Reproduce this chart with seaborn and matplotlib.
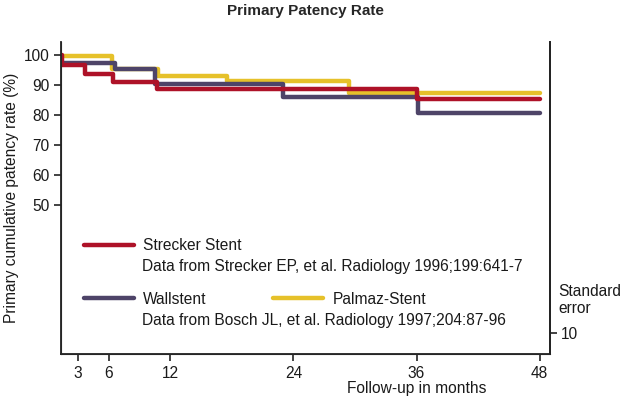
import pandas as pd
import seaborn as sns
import matplotlib.pyplot as plt
from matplotlib.lines import Line2D

# Kaplan-Meier style step values (months, %)
strecker_months = [0, 1.5, 3.7, 6.4, 10.7, 36.0, 48]
strecker_rate = [100, 96.9, 93.6, 91.2, 88.8, 85.3, 85.3]

wall_months = [0, 0.5, 6.6, 10.5, 23.0, 36.1, 48]
wall_rate = [100, 97.3, 95.3, 90.4, 86.2, 80.7, 80.7]

palmaz_months = [0, 0.5, 6.3, 10.8, 17.5, 29.4, 48]
palmaz_rate = [100, 99.6, 95.3, 93.1, 91.5, 87.3, 87.3]

x_ticks = [3, 6, 12, 24, 36, 48]
y_ticks = [50, 60, 70, 80, 90, 100]
se_ticks = [10]

names = ["Palmaz-Stent", "Wallstent", "Strecker Stent"]
colors = {"Strecker Stent": "#AE1228", "Wallstent": "#4E4468", "Palmaz-Stent": "#E6C12A"}

df = pd.concat([
    pd.DataFrame({"month": palmaz_months, "rate": palmaz_rate, "stent": "Palmaz-Stent"}),
    pd.DataFrame({"month": wall_months, "rate": wall_rate, "stent": "Wallstent"}),
    pd.DataFrame({"month": strecker_months, "rate": strecker_rate, "stent": "Strecker Stent"}),
])

sns.set_style("ticks")
plt.rcParams['font.family'] = ['Liberation Sans', 'DejaVu Sans']
fs = 11.2

fig = plt.figure(figsize=(6.2, 3.99), dpi=100)
ax = fig.add_axes([61 / 620, 1 - 354 / 399, 489 / 620, 312.3 / 399])

sns.lineplot(data=df, x="month", y="rate", hue="stent", hue_order=names,
             palette=colors, drawstyle="steps-post", linewidth=3.2,
             legend=False, ax=ax)

ax.set_xlim(1.36, 49.0)
ax.set_ylim(0.5, 104.5)
ax.set_xticks(x_ticks)
ax.set_yticks(y_ticks)
ax.tick_params(axis="both", labelsize=fs, length=5, width=1.2, color="#222222",
               pad=3.5, labelcolor="#1a1a1a")
for s in ["left", "bottom", "right"]:
    ax.spines[s].set_linewidth(1.3)
    ax.spines[s].set_color("#222222")
ax.spines["top"].set_visible(False)

ax.set_ylabel("Primary cumulative patency rate (%)", fontsize=fs, color="#1a1a1a")
ax.yaxis.set_label_coords(-0.086, 0.5)
ax.set_xlabel("Follow-up in months", fontsize=fs, color="#1a1a1a")
ax.xaxis.set_label_coords(0.728, -0.088)

# right-hand standard error axis
ax2 = ax.twinx()
ax2.set_ylim(0, 148.7)
ax2.set_yticks(se_ticks)
ax2.tick_params(axis="y", labelsize=fs, length=5, width=1.2, color="#222222",
                pad=3, labelcolor="#1a1a1a")
ax2.spines["top"].set_visible(False)
ax2.spines["right"].set_linewidth(1.3)
ax2.spines["right"].set_color("#222222")
fig.text(558 / 620, 1 - 300 / 399, "Standard\nerror", fontsize=fs,
         ha="left", va="center", linespacing=1.1, color="#1a1a1a")

# custom legend blocks
h1 = [Line2D([], [], color=colors["Strecker Stent"], lw=3.2)]
leg1 = ax.legend(h1, ["Strecker Stent"], loc="center left", frameon=False,
                 bbox_to_anchor=(76 / 620, 1 - 245.7 / 399),
                 bbox_transform=fig.transFigure, borderpad=0,
                 handlelength=3.2, handletextpad=0.6, fontsize=fs,
                 labelcolor="#1a1a1a")
ax.add_artist(leg1)
h2 = [Line2D([], [], color=colors["Wallstent"], lw=3.2),
      Line2D([], [], color=colors["Palmaz-Stent"], lw=3.2)]
ax.legend(h2, ["Wallstent", "Palmaz-Stent"], loc="center left", frameon=False,
          ncol=2, bbox_to_anchor=(76 / 620, 1 - 299 / 399),
          bbox_transform=fig.transFigure, borderpad=0,
          handlelength=3.2, handletextpad=0.6, columnspacing=4.3, fontsize=fs,
          labelcolor="#1a1a1a")
fig.text(142 / 620, 1 - 267 / 399, "Data from Strecker EP, et al. Radiology 1996;199:641-7",
         fontsize=fs, ha="left", va="center", color="#1a1a1a")
fig.text(142 / 620, 1 - 320 / 399, "Data from Bosch JL, et al. Radiology 1997;204:87-96",
         fontsize=fs, ha="left", va="center", color="#1a1a1a")

fig.text(305.5 / 620, 1 - 11 / 399, "Primary Patency Rate", fontsize=11,
         fontweight="bold", ha="center", va="center")

fig.savefig("out.png", dpi=100)
